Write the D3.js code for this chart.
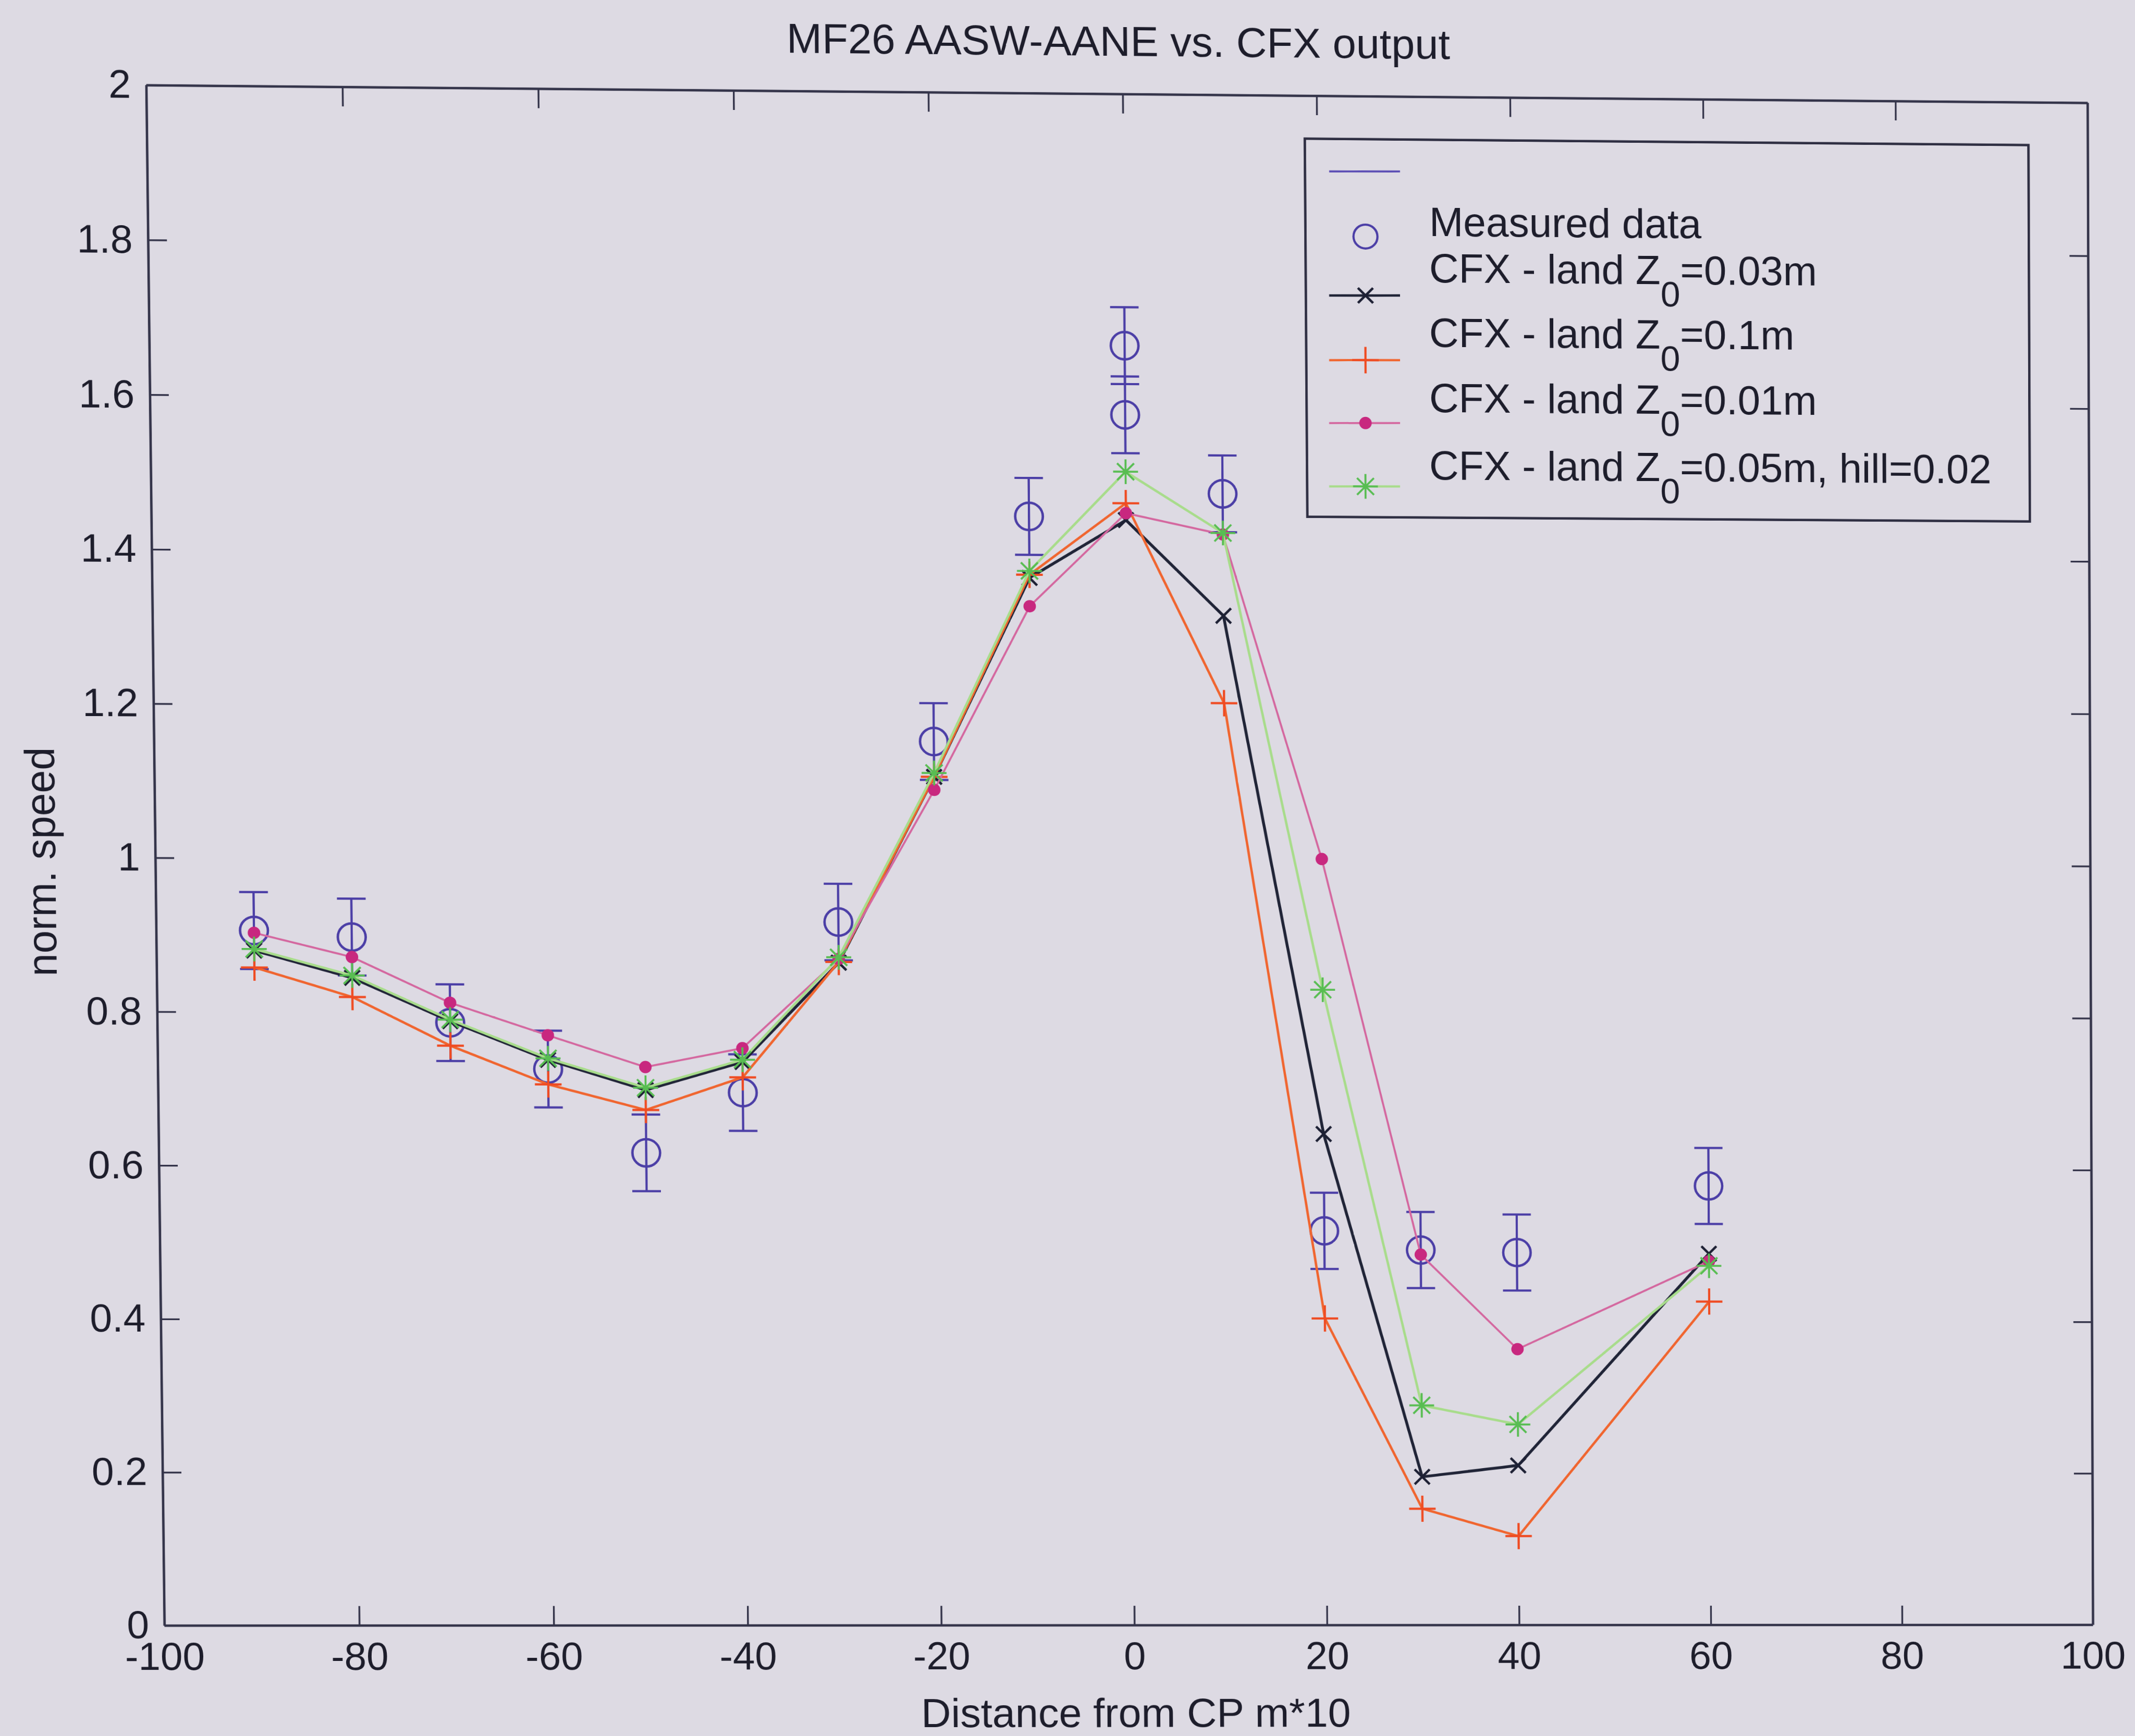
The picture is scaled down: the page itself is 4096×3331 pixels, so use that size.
<!DOCTYPE html>
<html>
<head>
<meta charset="utf-8">
<script src="https://cdn.jsdelivr.net/npm/d3@7"></script>
<style>
  html, body { margin: 0; padding: 0; background: #dddae3; overflow: hidden; width: 4096px; height: 3331px; }
  #page { position: absolute; left: 0; top: 0; width: 4820px; height: 3920px; transform-origin: 0 0; }
  svg text { font-family: "Liberation Sans", Arial, Helvetica, sans-serif; fill: #1d1d2b; }
</style>
</head>
<body>
<div id="page"></div>
<script>
// ---------------- data ----------------
const distance = [-90, -80, -70, -60, -50, -40, -30, -20, -10, 0, 10, 20, 30, 40, 60];

const speedZ003 = [0.880, 0.845, 0.789, 0.739, 0.700, 0.737, 0.867, 1.110, 1.370, 1.446, 1.322, 0.645, 0.195, 0.210, 0.489];
const speedZ01  = [0.858, 0.820, 0.757, 0.707, 0.674, 0.717, 0.868, 1.110, 1.374, 1.468, 1.208, 0.403, 0.153, 0.117, 0.426];
const speedZ001 = [0.903, 0.872, 0.813, 0.771, 0.730, 0.755, 0.872, 1.093, 1.333, 1.455, 1.428, 1.005, 0.487, 0.363, 0.479];
const speedZ005Hill = [0.882, 0.848, 0.791, 0.741, 0.703, 0.740, 0.874, 1.115, 1.379, 1.509, 1.430, 0.834, 0.289, 0.264, 0.473];

const measuredDistance = [-90, -80, -70, -60, -50, -40, -30, -20, -10, 0, 0, 10, 20, 30, 40, 60];
const measuredSpeed    = [0.906, 0.898, 0.787, 0.727, 0.618, 0.697, 0.920, 1.156, 1.450, 1.673, 1.583, 1.481, 0.518, 0.493, 0.490, 0.578];
const measuredError    = [0.05, 0.05, 0.05, 0.05, 0.05, 0.05, 0.05, 0.05, 0.05, 0.05, 0.05, 0.05, 0.05, 0.05, 0.05, 0.05];

const xTicks = [-100, -80, -60, -40, -20, 0, 20, 40, 60, 80, 100];
const yTicks = [0, 0.2, 0.4, 0.6, 0.8, 1, 1.2, 1.4, 1.6, 1.8, 2];
const yTickLabels = ["0", "0.2", "0.4", "0.6", "0.8", "1", "1.2", "1.4", "1.6", "1.8", "2"];

const titleText = "MF26 AASW-AANE vs. CFX output";
const xLabel = "Distance from CP m*10";
const yLabel = "norm. speed";
const legendLabels = [
  null,
  { main: "Measured data" },
  { main: "CFX - land Z", sub: "0", tail: "=0.03m" },
  { main: "CFX - land Z", sub: "0", tail: "=0.1m" },
  { main: "CFX - land Z", sub: "0", tail: "=0.01m" },
  { main: "CFX - land Z", sub: "0", tail: "=0.05m, hill=0.02" }
];

// ---------------- page geometry ----------------
const W = 4820, H = 3920, S = 4096 / 4820;
const L = 371, R = 4723, T = 192, B = 3670;          // axes frame (drawing coordinates)
// the printed sheet is slightly keystoned: where the frame corners sit on the page
const frameCorners = [[330, 192], [4711, 232], [4723, 3667], [371, 3670]];

function squareToQuad(q) {
  const [x0, y0] = q[0], [x1, y1] = q[1], [x2, y2] = q[2], [x3, y3] = q[3];
  const dx1 = x1 - x2, dx2 = x3 - x2, dx3 = x0 - x1 + x2 - x3;
  const dy1 = y1 - y2, dy2 = y3 - y2, dy3 = y0 - y1 + y2 - y3;
  const den = dx1 * dy2 - dx2 * dy1;
  const g = (dx3 * dy2 - dx2 * dy3) / den, h = (dx1 * dy3 - dx3 * dy1) / den;
  return [[x1 - x0 + g * x1, x3 - x0 + h * x3, x0],
          [y1 - y0 + g * y1, y3 - y0 + h * y3, y0],
          [g, h, 1]];
}
function mul(A, Bm) {
  const C = [[0,0,0],[0,0,0],[0,0,0]];
  for (let i = 0; i < 3; i++) for (let j = 0; j < 3; j++) for (let k = 0; k < 3; k++) C[i][j] += A[i][k] * Bm[k][j];
  return C;
}
function inv(m) {
  const [a, b, c] = m[0], [d, e, f] = m[1], [g, h, i] = m[2];
  const A = e * i - f * h, Bc = -(d * i - f * g), C = d * h - e * g;
  const det = a * A + b * Bc + c * C;
  return [[A / det, -(b * i - c * h) / det, (b * f - c * e) / det],
          [Bc / det, (a * i - c * g) / det, -(a * f - c * d) / det],
          [C / det, -(a * h - b * g) / det, (a * e - b * d) / det]];
}
function apply(m, p) {
  const w = m[2][0] * p[0] + m[2][1] * p[1] + m[2][2];
  return [(m[0][0] * p[0] + m[0][1] * p[1] + m[0][2]) / w, (m[1][0] * p[0] + m[1][1] * p[1] + m[1][2]) / w];
}
const N = [[1 / (R - L), 0, -L / (R - L)], [0, 1 / (B - T), -T / (B - T)], [0, 0, 1]];
const M = mul(squareToQuad(frameCorners), N);
const Minv = inv(M);
const toFlat = p => apply(Minv, p);
const F = [[S * M[0][0], S * M[0][1], S * M[0][2]], [S * M[1][0], S * M[1][1], S * M[1][2]], M[2]];
const page = document.getElementById("page");
page.style.transform = `matrix3d(${F[0][0]},${F[1][0]},0,${F[2][0]},${F[0][1]},${F[1][1]},0,${F[2][1]},0,0,1,0,${F[0][2]},${F[1][2]},0,${F[2][2]})`;

// ---------------- drawing ----------------
const svg = d3.select("#page").append("svg").attr("width", W).attr("height", H);

const x = d3.scaleLinear().domain([-100, 100]).range([L, R]);
const y = d3.scaleLinear().domain([0, 2]).range([B, T]);

const axisColor = "#34344a";
function styleAxis(g, fs) {
  g.attr("font-family", null).attr("font-size", null);
  g.select(".domain").attr("stroke", axisColor).attr("stroke-width", 5.5);
  g.selectAll(".tick line").attr("stroke", axisColor).attr("stroke-width", 4);
  g.selectAll(".tick text").attr("font-size", fs).attr("fill", "#1d1d2b");
}

svg.append("g").attr("transform", `translate(0,${B})`)
  .call(d3.axisBottom(x).tickValues(xTicks).tickFormat(d => String(d)).tickSizeInner(-44).tickSizeOuter(0).tickPadding(38))
  .call(g => styleAxis(g, 89));
svg.append("g").attr("transform", `translate(0,${T})`)
  .call(d3.axisTop(x).tickValues(xTicks).tickFormat(() => "").tickSizeInner(-44).tickSizeOuter(0))
  .call(g => styleAxis(g, 89));
svg.append("g").attr("transform", `translate(${L},0)`)
  .call(d3.axisLeft(y).tickValues(yTicks).tickFormat((d, i) => yTickLabels[i]).tickSizeInner(-42).tickSizeOuter(0).tickPadding(34))
  .call(g => styleAxis(g, 89));
svg.append("g").attr("transform", `translate(${R},0)`)
  .call(d3.axisRight(y).tickValues(yTicks).tickFormat(() => "").tickSizeInner(-42).tickSizeOuter(0))
  .call(g => styleAxis(g, 89));

// titles
const tp = toFlat([2526, 126]);
svg.append("text").attr("x", tp[0]).attr("y", tp[1]).attr("text-anchor", "middle").attr("font-size", 95).text(titleText);
const xp = toFlat([2565, 3898]);
svg.append("text").attr("x", xp[0]).attr("y", xp[1]).attr("text-anchor", "middle").attr("font-size", 93).text(xLabel);
const yp = toFlat([125, 1946]);
svg.append("text").attr("transform", `translate(${yp[0]},${yp[1]}) rotate(-90)`).attr("text-anchor", "middle").attr("font-size", 93).text(yLabel);

// marker shapes
function marker(g, type, cx, cy, color, k = 1) {
  const seg = (x1, y1, x2, y2, w) => g.append("line").attr("x1", x1).attr("y1", y1).attr("x2", x2).attr("y2", y2)
    .attr("stroke", color).attr("stroke-width", w).attr("stroke-linecap", "butt");
  if (type === "x") {
    const a = 17 * k;
    seg(cx - a, cy - a, cx + a, cy + a, 5.5); seg(cx - a, cy + a, cx + a, cy - a, 5.5);
  } else if (type === "+") {
    const a = 30 * k;
    seg(cx - a, cy, cx + a, cy, 5); seg(cx, cy - a, cx, cy + a, 5);
  } else if (type === "dot") {
    g.append("circle").attr("cx", cx).attr("cy", cy).attr("r", 14 * k).attr("fill", color);
  } else if (type === "star") {
    const a = 28 * k, b = 19 * k;
    seg(cx - a, cy, cx + a, cy, 4.5); seg(cx, cy - a, cx, cy + a, 4.5);
    seg(cx - b, cy - b, cx + b, cy + b, 4.5); seg(cx - b, cy + b, cx + b, cy - b, 4.5);
  }
}

// measured data with error bars
const measColor = "#4b3ea6";
const meas = svg.append("g");
const measured = measuredDistance.map((d, i) => ({ d, v: measuredSpeed[i], e: measuredError[i] }));
measured.forEach(p => {
  const cx = x(p.d);
  meas.append("line").attr("x1", cx).attr("x2", cx).attr("y1", y(p.v - p.e)).attr("y2", y(p.v + p.e))
    .attr("stroke", measColor).attr("stroke-width", 5);
  [p.v - p.e, p.v + p.e].forEach(v => meas.append("line").attr("x1", cx - 32).attr("x2", cx + 32)
    .attr("y1", y(v)).attr("y2", y(v)).attr("stroke", measColor).attr("stroke-width", 5));
  meas.append("circle").attr("cx", cx).attr("cy", y(p.v)).attr("r", 31)
    .attr("fill", "none").attr("stroke", measColor).attr("stroke-width", 5.5);
});

// CFX series
const series = [
  { values: speedZ003, color: "#202437", width: 6.5, marker: "x", mcolor: "#1d2034" },
  { values: speedZ01, color: "#f0652f", width: 5.5, marker: "+", mcolor: "#ef4b22" },
  { values: speedZ001, color: "#d4679f", width: 4.5, marker: "dot", mcolor: "#c8287f" },
  { values: speedZ005Hill, color: "#a8dc8b", width: 5.5, marker: "star", mcolor: "#58bd52" }
];
const line = d3.line().x(p => x(p[0])).y(p => y(p[1]));
series.forEach(s => {
  const pts = distance.map((d, i) => [d, s.values[i]]);
  const g = svg.append("g");
  g.append("path").attr("d", line(pts)).attr("fill", "none").attr("stroke", s.color)
    .attr("stroke-width", s.width).attr("stroke-linejoin", "round");
  pts.forEach(p => marker(g, s.marker, x(p[0]), y(p[1]), s.mcolor));
});

// legend
const lgA = toFlat([2945, 313]), lgB = toFlat([4581, 1177]);
const lg = svg.append("g");
lg.append("rect").attr("x", lgA[0]).attr("y", lgA[1]).attr("width", lgB[0] - lgA[0]).attr("height", lgB[1] - lgA[1])
  .attr("fill", "none").attr("stroke", "#2e2e42").attr("stroke-width", 5.5);
const keyY = [387, 534, 667, 813, 955, 1098];
const textY = [null, 533, 637, 783, 930, 1083];
const keyStyles = [
  { color: "#5a4cb4", width: 4.5, marker: null },
  { color: null, marker: "circle" },
  { color: series[0].color, width: 5.5, marker: "x", mcolor: series[0].mcolor },
  { color: series[1].color, width: 5, marker: "+", mcolor: series[1].mcolor },
  { color: series[2].color, width: 4.5, marker: "dot", mcolor: series[2].mcolor },
  { color: series[3].color, width: 5, marker: "star", mcolor: series[3].mcolor }
];
keyStyles.forEach((k, i) => {
  const a = toFlat([3000, keyY[i]]), b = toFlat([3160, keyY[i]]), c = toFlat([3082, keyY[i]]);
  if (k.color) lg.append("line").attr("x1", a[0]).attr("y1", a[1]).attr("x2", b[0]).attr("y2", b[1])
    .attr("stroke", k.color).attr("stroke-width", k.width);
  if (k.marker === "circle") lg.append("circle").attr("cx", c[0]).attr("cy", c[1]).attr("r", 27)
    .attr("fill", "none").attr("stroke", measColor).attr("stroke-width", 5);
  else if (k.marker) marker(lg, k.marker, c[0], c[1], k.mcolor);
  const lab = legendLabels[i];
  if (lab) {
    const tpos = toFlat([3226, textY[i]]);
    const t = lg.append("text").attr("x", tpos[0]).attr("y", tpos[1]).attr("font-size", 92);
    t.append("tspan").text(lab.main);
    if (lab.sub) {
      t.append("tspan").attr("font-size", 80).attr("dy", 50).text(lab.sub);
      t.append("tspan").attr("dy", -50).text(lab.tail);
    }
  }
});
</script>
</body>
</html>
